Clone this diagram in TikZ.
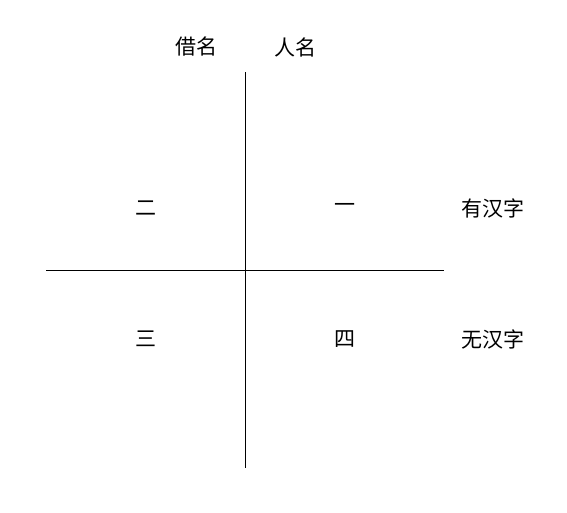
\documentclass[tikz,border=0pt]{standalone}
\usepackage{fontspec}
\newfontfamily\cjk{Noto Sans CJK SC}
\usetikzlibrary{positioning}

\begin{document}
\begin{tikzpicture}[x=1pt, y=-1pt, label/.style={inner sep=0pt, font=\cjk\fontsize{21}{21}\selectfont}]
        \useasboundingbox (0,0) rectangle (567,512);
        % axes
        \coordinate (top) at (245,72);
        \coordinate (bottom) at (245,468);
        \coordinate (left) at (46,270);
        \coordinate (right) at (444,270);
        \draw[line width=0.9pt] (top) -- (bottom);
        \draw[line width=0.9pt] (left) -- (right);

        \node[label] (jieming) at (196,47) {借名};
        \node[label] (renming) at (295,47) {人名};
        \node[label] (q2) at (146,208) {二};
        \node[label] (q1) at (345,208) {一};
        \node[label] (you) at (493,208) {有汉字};
        \node[label] (q3) at (146,339) {三};
        \node[label] (q4) at (345,339) {四};
        \node[label] (wu) at (493,339) {无汉字};
    \end{tikzpicture}
\end{document}
